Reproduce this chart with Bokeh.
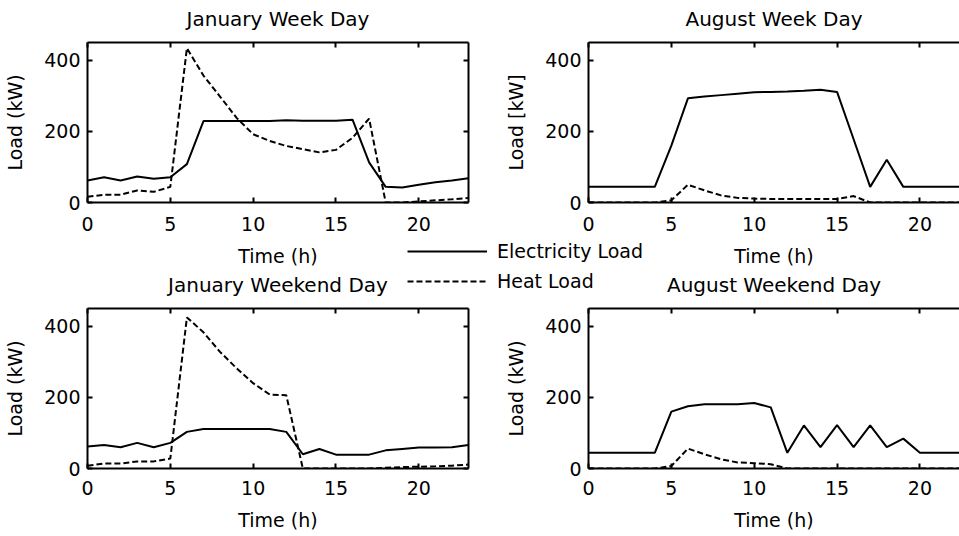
from bokeh.plotting import figure
from bokeh.layouts import column, row
from bokeh.models import Range1d, FixedTicker, LinearAxis, Legend, LegendItem
from bokeh.embed import file_html
from bokeh.resources import INLINE

# ---------------- data ----------------
hours = list(range(24))
x_ticks = [0, 5, 10, 15, 20]
y_ticks = [0, 200, 400]

jan_wd_elec = [62, 71, 62, 73, 67, 71, 108, 229, 229, 229, 229, 229, 231, 230, 230, 230, 233, 113, 44, 42, 50, 57, 62, 68]
jan_wd_heat = [16, 22, 22, 34, 30, 44, 434, 357, 298, 238, 192, 173, 159, 150, 141, 148, 182, 236, 0, 0, 3, 6, 9, 13]

aug_wd_elec = [44, 44, 44, 44, 44, 160, 293, 298, 302, 306, 310, 311, 312, 314, 317, 311, 178, 44, 120, 44, 44, 44, 44, 44]
aug_wd_heat = [0, 0, 0, 0, 0, 6, 50, 34, 20, 13, 11, 10, 10, 10, 10, 10, 18, 0, 0, 0, 0, 0, 0, 0]

jan_we_elec = [62, 66, 60, 72, 60, 72, 103, 111, 111, 111, 111, 111, 103, 40, 55, 39, 39, 39, 51, 55, 59, 59, 60, 66]
jan_we_heat = [8, 14, 14, 20, 20, 28, 425, 383, 328, 282, 240, 208, 206, 0, 0, 0, 0, 0, 2, 4, 5, 6, 8, 11]

aug_we_elec = [44, 44, 44, 44, 44, 160, 175, 181, 181, 181, 184, 172, 44, 121, 60, 122, 60, 121, 60, 84, 44, 44, 44, 44]
aug_we_heat = [0, 0, 0, 0, 0, 7, 56, 40, 26, 17, 15, 12, 0, 0, 0, 0, 0, 0, 0, 0, 0, 0, 0, 0]

titles = ["January Week Day", "August Week Day", "January Weekend Day", "August Weekend Day"]
y_labels = ["Load (kW)", "Load [kW]", "Load (kW)", "Load (kW)"]
x_label = "Time (h)"
legend_labels = ["Electricity Load", "Heat Load"]

FONT = "DejaVu Sans"
DASH = "6 3"


def style_axis(ax):
    ax.axis_line_color = "black"
    ax.axis_line_width = 2
    ax.major_tick_in = 5
    ax.major_tick_out = 0
    ax.minor_tick_in = 5
    ax.minor_tick_out = 0
    ax.major_tick_line_color = "black"
    ax.major_tick_line_width = 2
    ax.minor_tick_line_color = "black"
    ax.minor_tick_line_width = 2
    ax.major_label_text_font = FONT
    ax.major_label_text_color = "black"
    ax.major_label_text_font_size = "19px"
    ax.axis_label_text_font = FONT
    ax.axis_label_text_font_size = "19px"
    ax.axis_label_text_font_style = "normal"
    ax.axis_label_text_color = "black"


def panel(title, ylabel, elec, heat, width, height, x_end, mbl, mbr, mbt, mbb,
          right_axis, xs_lab):
    p = figure(width=width, height=height, x_range=Range1d(0, x_end), y_range=Range1d(0, 450),
               output_backend="svg", toolbar_location=None,
               min_border_left=mbl, min_border_right=mbr, min_border_top=mbt, min_border_bottom=mbb,
               background_fill_color="white", border_fill_color="white", outline_line_color=None)
    p.xgrid.visible = False
    p.ygrid.visible = False
    p.line(hours, elec, line_color="black", line_width=2)
    p.line(hours, heat, line_color="black", line_width=2, line_dash=DASH)

    p.xaxis.ticker = FixedTicker(ticks=x_ticks, minor_ticks=[])
    p.yaxis.ticker = FixedTicker(ticks=y_ticks, minor_ticks=[])
    for ax in p.xaxis + p.yaxis:
        style_axis(ax)
    p.xaxis.axis_label = x_label
    p.yaxis.axis_label = ylabel
    p.xaxis.major_label_standoff = xs_lab[0]
    p.xaxis.axis_label_standoff = xs_lab[1]
    p.yaxis.major_label_standoff = 7
    p.yaxis.axis_label_standoff = 15

    # top side of the box: tick marks only (minor ticks carry no labels);
    # the panel title is this axis' label, centred over the frame
    top = LinearAxis(ticker=FixedTicker(ticks=[], minor_ticks=x_ticks))
    style_axis(top)
    top.major_label_standoff = 0
    top.axis_label = title
    top.axis_label_text_font_size = "20px"
    top.axis_label_standoff = 12
    p.add_layout(top, "above")
    if right_axis:
        rgt = LinearAxis(ticker=FixedTicker(ticks=[], minor_ticks=y_ticks))
        style_axis(rgt)
        rgt.major_label_standoff = 0
        p.add_layout(rgt, "right")
    return p


p1 = panel(titles[0], y_labels[0], jan_wd_elec, jan_wd_heat, 480, 269, 23, 87, 12, 42, 66, True, (14, 11))
p2 = panel(titles[1], y_labels[1], aug_wd_elec, aug_wd_heat, 479, 269, 22.39, 108, 0, 42, 66, False, (14, 11))
p3 = panel(titles[2], y_labels[2], jan_we_elec, jan_we_heat, 480, 267, 23, 87, 12, 38, 68, True, (12, 11))
p4 = panel(titles[3], y_labels[3], aug_we_elec, aug_we_heat, 479, 267, 22.39, 108, 0, 38, 68, False, (12, 11))

# ---------------- legend (floating box) ----------------
pl = figure(width=247, height=62, x_range=Range1d(100, 101), y_range=Range1d(1000, 1001),
            output_backend="svg", toolbar_location=None, min_border=0,
            x_axis_location=None, y_axis_location=None, outline_line_color=None,
            background_fill_color="white", border_fill_color="white",
            styles={"position": "absolute", "left": "400px", "top": "232px", "z-index": "10"})
pl.xgrid.visible = False
pl.ygrid.visible = False
r_e = pl.line(hours, jan_wd_elec, line_color="black", line_width=2)
r_h = pl.line(hours, jan_wd_heat, line_color="black", line_width=2, line_dash=DASH)
leg = Legend(items=[LegendItem(label=legend_labels[0], renderers=[r_e]),
                    LegendItem(label=legend_labels[1], renderers=[r_h])],
             location=(7, 2), orientation="vertical", border_line_color=None,
             background_fill_color="white", background_fill_alpha=1.0,
             padding=0, margin=0, spacing=8, glyph_width=80, glyph_height=20,
             label_standoff=10, label_height=20, label_text_font=FONT,
             label_text_font_size="19px", label_text_color="black")
pl.add_layout(leg, "center")

layout = column(row(p1, p2), row(p3, p4), pl)
open("out.html", "w").write(file_html(layout, INLINE))
